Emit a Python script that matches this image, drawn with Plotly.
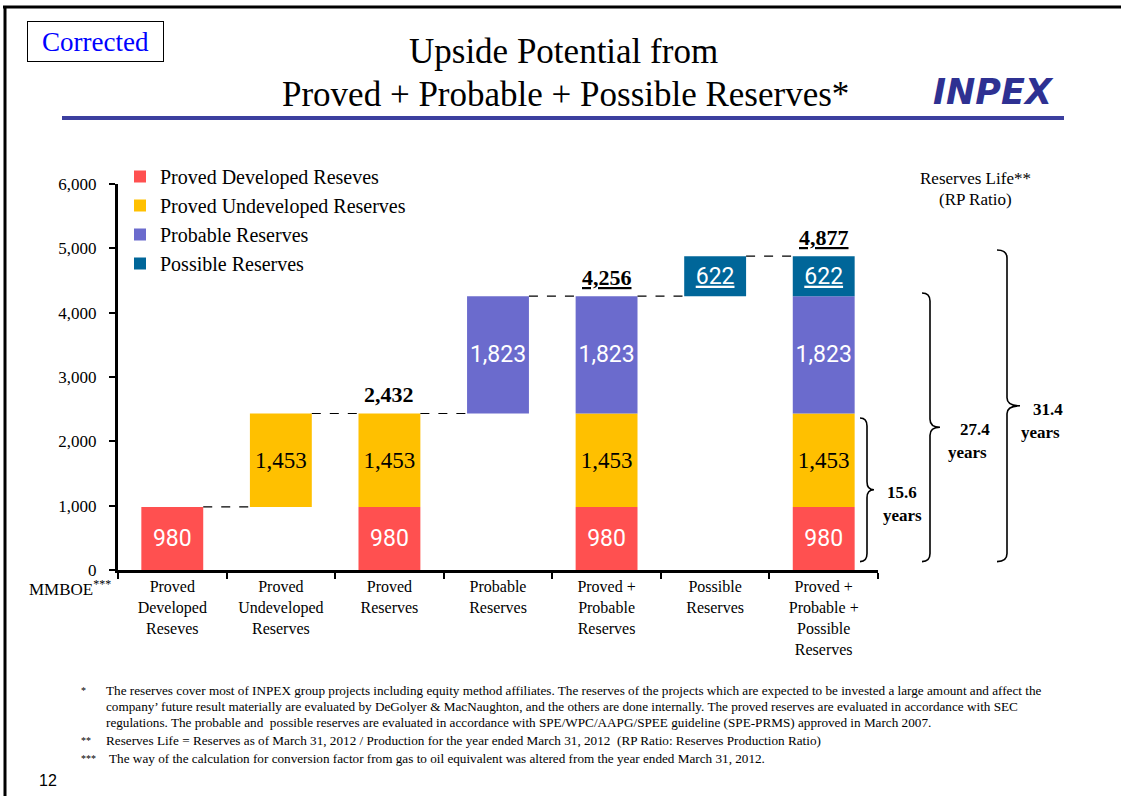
import plotly.graph_objects as go

# ---- data (MMBOE) ----
categories = [
    "Proved<br>Developed<br>Reseves",
    "Proved<br>Undeveloped<br>Reserves",
    "Proved<br>Reserves",
    "Probable<br>Reserves",
    "Proved +<br>Probable<br>Reserves",
    "Possible<br>Reserves",
    "Proved +<br>Probable +<br>Possible<br>Reserves",
]
proved_developed = 980
proved_undeveloped = 1453
probable = 1823
possible = 622
total_labels = ["2,432", "4,256", "4,877"]
reserves_life = ["15.6", "27.4", "31.4"]
y_ticks = [0, 1000, 2000, 3000, 4000, 5000, 6000]

# which category positions carry each component
idx_red = [0, 2, 4, 6]
idx_yellow = [1, 2, 4, 6]
idx_purple = [3, 4, 6]
idx_teal = [5, 6]

W, H = 1121, 796
SERIF = "Liberation Serif"
BAR_W = 0.57


def xp(px):
    return px / W


def yp(py):
    return 1 - py / H


def note(x, y, text, size, xanchor="center", family=SERIF, color="black", **kw):
    d = dict(x=xp(x), y=yp(y), xref="paper", yref="paper", text=text,
             showarrow=False, xanchor=xanchor, yanchor="middle",
             font=dict(family=family, size=size, color=color))
    d.update(kw)
    return d


base_yellow = proved_developed
base_purple = proved_developed + proved_undeveloped
base_teal = base_purple + probable

fig = go.Figure()

series = [
    ("Proved Developed Reseves", "#FF5050", idx_red, proved_developed, 0,
     dict(family="Roboto", size=23, color="white"), "{:,}"),
    ("Proved Undeveloped Reserves", "#FFC000", idx_yellow, proved_undeveloped, base_yellow,
     dict(family=SERIF, size=23, color="black"), "{:,}"),
    ("Probable Reserves", "#6B6BCD", idx_purple, probable, base_purple,
     dict(family="Roboto", size=23, color="white"), "{:,}"),
    ("Possible Reserves", "#006699", idx_teal, possible, base_teal,
     dict(family="Roboto", size=23, color="white"), "<u>{:,}</u>"),
]

for i, (name, color, idx, val, base, tfont, fmt) in enumerate(series):
    fig.add_trace(go.Bar(
        name=name,
        x=[categories[k] for k in idx],
        y=[val] * len(idx),
        base=[base] * len(idx),
        width=BAR_W,
        marker=dict(color=color, line=dict(width=0)),
        text=[fmt.format(val)] * len(idx),
        textposition="inside",
        insidetextanchor="middle",
        textangle=0,
        constraintext="none",
        textfont=tfont,
        hoverinfo="skip",
        legendgroup=f"g{i}",
    ))

# bar tops per category, used for connectors and total labels
tops = [0.0] * len(categories)
for name, color, idx, val, base, tfont, fmt in series:
    for k in idx:
        tops[k] = max(tops[k], base + val)

shapes = []
# dashed connectors between consecutive bars
for k in range(len(categories) - 1):
    shapes.append(dict(
        type="line", xref="x", yref="y",
        x0=k + BAR_W / 2, x1=k + 1 - BAR_W / 2,
        y0=tops[k], y1=tops[k],
        line=dict(color="black", width=1.2, dash="dash"),
    ))

annotations = []
# totals above stacked bars
for k, lab, u in zip([2, 4, 6], total_labels, [False, True, True]):
    txt = f"<b>{lab}</b>"
    if u:
        txt = f"<u>{txt}</u>"
    annotations.append(dict(
        x=categories[k], y=tops[k], xref="x", yref="y",
        text=txt, showarrow=False, xanchor="center", yanchor="bottom", yshift=4,
        font=dict(family=SERIF, size=22, color="black"),
    ))


# curly braces for reserves life
def brace(x_end, x_line, x_tip, y_bot, y_top, r):
    y_tip = (y_bot + y_top) / 2
    a, b, c = xp(x_end), xp(x_line), xp(x_tip)
    return (f"M {a},{y_top} Q {b},{y_top} {b},{y_top - r} "
            f"L {b},{y_tip + r} Q {b},{y_tip} {c},{y_tip} "
            f"Q {b},{y_tip} {b},{y_tip - r} "
            f"L {b},{y_bot + r} Q {b},{y_bot} {a},{y_bot}")


brace_tops = [tops[2], tops[4], tops[6]]
brace_x = [(860, 867, 874), (922, 930, 940), (997, 1007, 1020)]
brace_top_pad = [-70, 50, 97]
for (xe, xl, xt), top, pad in zip(brace_x, brace_tops, brace_top_pad):
    shapes.append(dict(
        type="path", xref="paper", yref="y",
        path=brace(xe, xl, xt, 130, top + pad, 125),
        line=dict(color="black", width=1.6),
    ))

life_pos = [((902, 492), (902, 515)), ((975, 430), (967, 452)), ((1048, 410), (1040, 432))]
for val, ((x1, y1), (x2, y2)) in zip(reserves_life, life_pos):
    annotations.append(note(x1, y1, f"<b>{val}</b>", 17))
    annotations.append(note(x2, y2, "<b>years</b>", 17))

annotations.append(note(975, 178, "Reserves Life**", 17))
annotations.append(note(975, 200, "(RP Ratio)", 17))

# title block
annotations.append(note(563, 52, "Upside Potential from", 35))
annotations.append(note(565, 95, "Proved + Probable + Possible Reserves*", 35))
annotations.append(note(95, 42, "Corrected", 27, color="#0000FF", width=133, height=37,
                        bordercolor="black", borderwidth=1, borderpad=1))
annotations.append(note(993, 92, "<b><i>INPEX</i></b>", 35, family="DejaVu Sans",
                        color="#2E3192"))

# axis unit
annotations.append(note(113, 588, "MMBOE<sup>***</sup>", 17, xanchor="right"))

# footnotes
notes = [
    (690, "*", "The reserves cover most of INPEX group projects including equity method affiliates. The reserves of the projects which are expected to be invested a large amount and affect the"),
    (706, "", "company\u2019 future result materially are evaluated by DeGolyer &amp; MacNaughton, and the others are done internally. The proved reserves are evaluated in accordance with SEC"),
    (722, "", "regulations. The probable and  possible reserves are evaluated in accordance with SPE/WPC/AAPG/SPEE guideline (SPE-PRMS) approved in March 2007."),
    (740, "**", "Reserves Life = Reserves as of March 31, 2012 / Production for the year ended March 31, 2012  (RP Ratio: Reserves Production Ratio)"),
    (758, "***", " The way of the calculation for conversion factor from gas to oil equivalent was altered from the year ended March 31, 2012."),
]
for y, mark, txt in notes:
    if mark:
        annotations.append(note(79, y, mark, 10, xanchor="left"))
    annotations.append(note(104, y, txt, 13.2, xanchor="left"))

annotations.append(note(37, 780, "12", 16, xanchor="left", family="Liberation Sans"))

# page frame and title rule
shapes += [
    dict(type="line", xref="paper", yref="paper", x0=xp(5), x1=xp(5), y0=yp(6), y1=0,
         line=dict(color="black", width=3)),
    dict(type="line", xref="paper", yref="paper", x0=xp(3), x1=1, y0=yp(7), y1=yp(7),
         line=dict(color="black", width=3)),
    dict(type="line", xref="paper", yref="paper", x0=xp(62), x1=xp(1064), y0=yp(118), y1=yp(118),
         line=dict(color="#3C3F9F", width=4)),
]

fig.update_layout(
    width=W, height=H,
    margin=dict(l=0, r=0, t=0, b=0, autoexpand=False),
    paper_bgcolor="white", plot_bgcolor="white",
    barmode="overlay",
    showlegend=True,
    legend=dict(x=xp(120), y=yp(157), xanchor="left", yanchor="top",
                font=dict(family=SERIF, size=20, color="black"),
                tracegroupgap=0, bgcolor="rgba(0,0,0,0)", itemclick=False),
    xaxis=dict(domain=[xp(118), xp(878)], type="category", categoryorder="array",
               categoryarray=categories, range=[-0.5, len(categories) - 0.5],
               showline=True, linecolor="black", linewidth=3, automargin=False,
               ticks="outside", tickson="boundaries", ticklen=6, tickwidth=2, tickcolor="black",
               showgrid=False, zeroline=False,
               tickfont=dict(family=SERIF, size=16, color="black")),
    yaxis=dict(domain=[yp(570), yp(184)], range=[0, 6000],
               tickvals=y_ticks, tickformat=",", automargin=False,
               showline=True, linecolor="black", linewidth=3,
               ticks="outside", ticklen=6, tickwidth=2, tickcolor="black",
               ticklabelstandoff=9,
               showgrid=False, zeroline=False,
               tickfont=dict(family=SERIF, size=17, color="black")),
    shapes=shapes,
    annotations=annotations,
)

fig.write_html("out.html")
